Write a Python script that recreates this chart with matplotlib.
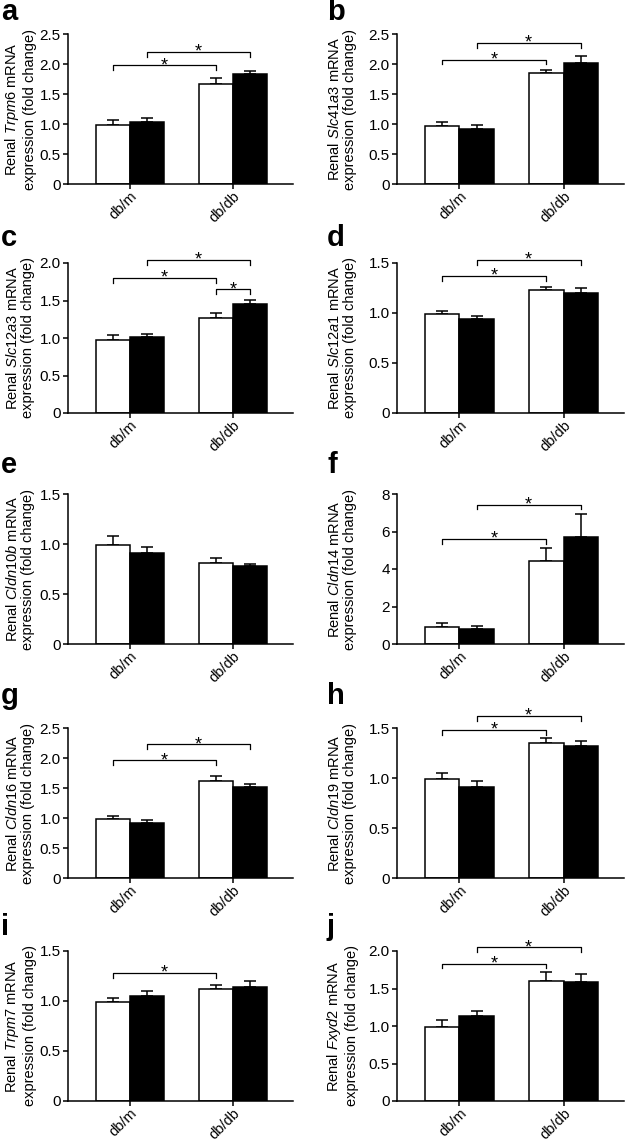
import matplotlib
matplotlib.use("Agg")
import matplotlib.pyplot as plt
import numpy as np

plt.rcParams['font.family'] = ['Liberation Sans', 'DejaVu Sans']
plt.rcParams['mathtext.fontset'] = 'custom'
plt.rcParams['mathtext.rm'] = 'Liberation Sans'
plt.rcParams['mathtext.it'] = 'Liberation Sans:italic'

# ---------------- data ----------------
panel_letters = ['a', 'b', 'c', 'd', 'e', 'f', 'g', 'h', 'i', 'j']
genes = ['Trpm6', 'Slc41a3', 'Slc12a3', 'Slc12a1', 'Cldn10b',
         'Cldn14', 'Cldn16', 'Cldn19', 'Trpm7', 'Fxyd2']
groups = ['db/m', 'db/db']

open_dbm = [0.98, 0.97, 0.98, 0.99, 0.99, 0.92, 0.98, 0.99, 0.99, 0.99]
open_dbm_err = [0.08, 0.06, 0.06, 0.03, 0.09, 0.18, 0.06, 0.06, 0.04, 0.09]
filled_dbm = [1.03, 0.92, 1.02, 0.94, 0.91, 0.82, 0.92, 0.91, 1.05, 1.13]
filled_dbm_err = [0.07, 0.06, 0.04, 0.03, 0.06, 0.12, 0.04, 0.06, 0.05, 0.07]
open_dbdb = [1.67, 1.85, 1.27, 1.23, 0.81, 4.41, 1.62, 1.35, 1.12, 1.60]
open_dbdb_err = [0.10, 0.05, 0.06, 0.03, 0.05, 0.71, 0.08, 0.05, 0.04, 0.12]
filled_dbdb = [1.84, 2.01, 1.45, 1.20, 0.78, 5.71, 1.51, 1.32, 1.14, 1.59]
filled_dbdb_err = [0.05, 0.13, 0.06, 0.05, 0.02, 1.21, 0.05, 0.05, 0.06, 0.11]

y_max = [2.5, 2.5, 2.0, 1.5, 1.5, 8, 2.5, 1.5, 1.5, 2.0]
y_step = [0.5, 0.5, 0.5, 0.5, 0.5, 2, 0.5, 0.5, 0.5, 0.5]

# significance brackets: (bar index from, bar index to, height)
# bar indices: 0 db/m open, 1 db/m filled, 2 db/db open, 3 db/db filled
brackets = [
    [(0, 2, 1.98), (1, 3, 2.20)],
    [(0, 2, 2.07), (1, 3, 2.35)],
    [(0, 2, 1.80), (1, 3, 2.04), (2, 3, 1.65)],
    [(0, 2, 1.37), (1, 3, 1.53)],
    [],
    [(0, 2, 5.60), (1, 3, 7.43)],
    [(0, 2, 1.96), (1, 3, 2.23)],
    [(0, 2, 1.48), (1, 3, 1.62)],
    [(0, 2, 1.28)],
    [(0, 2, 1.83), (1, 3, 2.05)],
]

# ---------------- layout ----------------
W, H = 625, 1142
fig = plt.figure(figsize=(W / 100, H / 100), dpi=100)

row_tops = [34, 263, 494, 728, 951]
ax_h = 150
col_left = [68, 397]
col_w = [225, 227]
label_x = [20, 342]
letter_x = [1, 327]
letter_base = [20, 246, 473, 704, 935]

bw = 0.33
lw = 1.1

def rect(left, top, width, height):
    return [left / W, 1 - (top + height) / H, width / W, height / H]

for k in range(10):
    r, c = divmod(k, 2)
    ax = fig.add_axes(rect(col_left[c], row_tops[r], col_w[c], ax_h))
    x = np.arange(len(groups))
    om = [open_dbm[k], open_dbdb[k]]
    oe = [open_dbm_err[k], open_dbdb_err[k]]
    fm = [filled_dbm[k], filled_dbdb[k]]
    fe = [filled_dbm_err[k], filled_dbdb_err[k]]
    xo = x - bw / 2
    xf = x + bw / 2
    ax.errorbar(xo, om, yerr=[[0, 0], oe], fmt='none', ecolor='black',
                elinewidth=lw, capsize=4.5, capthick=lw, zorder=1)
    ax.errorbar(xf, fm, yerr=[[0, 0], fe], fmt='none', ecolor='black',
                elinewidth=lw, capsize=4.5, capthick=lw, zorder=1)
    ax.bar(xo, om, width=bw, color='white', edgecolor='black', linewidth=lw, zorder=2)
    ax.bar(xf, fm, width=bw, color='black', edgecolor='black', linewidth=lw, zorder=2)

    ax.set_xlim(-0.6, 1.58)
    ax.set_ylim(0, y_max[k])
    ticks = np.arange(0, y_max[k] + 1e-9, y_step[k])
    ax.set_yticks(ticks)
    if y_step[k] >= 1:
        labs = ['%d' % t for t in ticks]
    else:
        labs = ['0' if t == 0 else '%.1f' % t for t in ticks]
    ax.set_yticklabels(labs, fontsize=11)
    ax.set_xticks(x)
    ax.set_xticklabels(groups, fontsize=10.5, rotation=45, ha='right',
                       va='top', rotation_mode='anchor')
    ax.tick_params(axis='both', direction='out', length=3.7, width=lw)
    ax.tick_params(axis='y', pad=1.5)
    ax.tick_params(axis='x', pad=0)
    for s in ['top', 'right']:
        ax.spines[s].set_visible(False)
    for s in ['left', 'bottom']:
        ax.spines[s].set_linewidth(lw)

    # brackets
    centers = [xo[0], xf[0], xo[1], xf[1]]
    drop = 4.5 / ax_h * y_max[k]
    for (i, j, yb) in brackets[k]:
        x1, x2 = centers[i], centers[j]
        ax.plot([x1, x1, x2, x2], [yb - drop, yb, yb, yb - drop], color='black',
                lw=0.9, clip_on=False, zorder=3)
        ax.annotate('*', ((x1 + x2) / 2, yb), xytext=(0, -3.5),
                    textcoords='offset points', ha='center', va='baseline',
                    fontsize=13, annotation_clip=False)

    # y label
    ycen = 1 - (row_tops[r] + ax_h / 2) / H
    fig.text(label_x[c] / W, ycen,
             'Renal $\\mathit{%s}$ mRNA\nexpression (fold change)' % genes[k],
             rotation=90, ha='center', va='center', fontsize=10.5,
             linespacing=1.15, multialignment='center')

    # panel letter
    fig.text(letter_x[c] / W, 1 - letter_base[r] / H, panel_letters[k],
             fontsize=21, fontweight='bold', ha='left', va='baseline')

fig.savefig('out.png', dpi=100, facecolor='white')
